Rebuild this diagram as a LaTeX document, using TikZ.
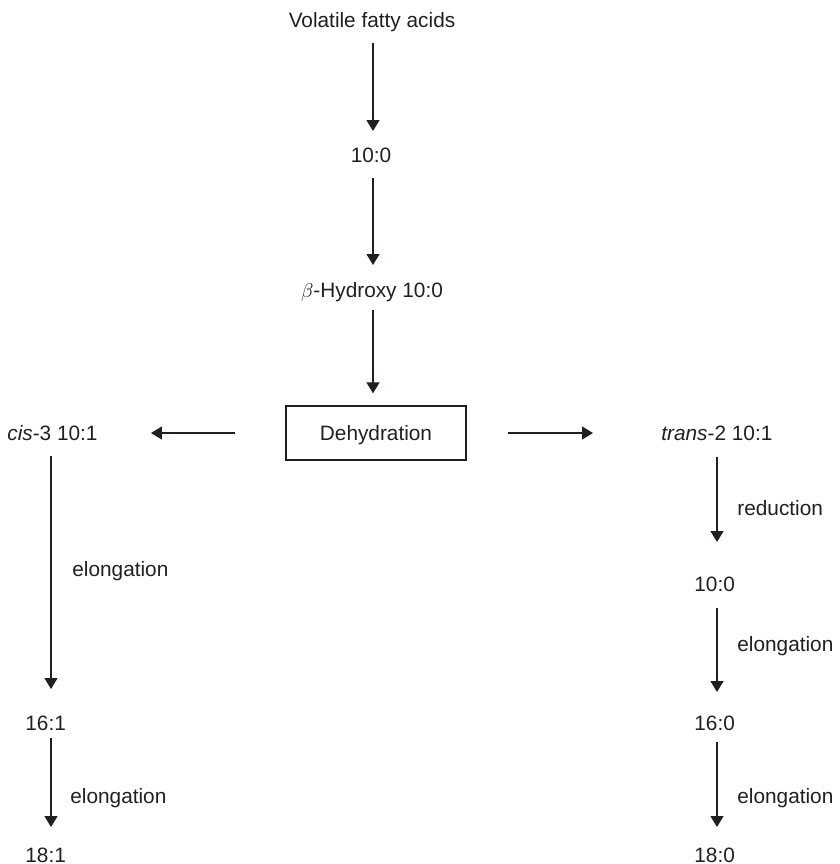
\documentclass[tikz,border=0pt]{standalone}
\usepackage{fontspec}
\setmainfont{Liberation Sans}
\usepackage{tikz}
\usetikzlibrary{arrows.meta}
\definecolor{ink}{RGB}{35,31,32}

\begin{document}
\begin{tikzpicture}[x=0.5pt,y=-0.5pt,
    lbl/.style={inner sep=0pt,text height=7.45pt,text depth=0pt,text=ink,font=\fontsize{10.4}{12}\selectfont},
    flow/.style={draw=ink,line width=0.65pt,-{Triangle[width=6.5pt,length=5.5pt]}}]
  \useasboundingbox (0,0) rectangle (840,864);
  \coordinate (tcol) at (373,0);
  \coordinate (lcol) at (51,0);
  \coordinate (rcol) at (717,0);
  % main line
  \node[lbl](vfa) at (372,20){Volatile fatty acids};
  \node[lbl](top10) at (371,155){10:0};
  \node[lbl](hyd) at (372,290){$\beta$-Hydroxy 10:0};
  \node[lbl,draw=ink,line width=0.65pt,minimum width=90pt,minimum height=27pt](dehyd) at (376,433){Dehydration};
  % left branch
  \node[lbl,anchor=west](cis) at (7,433){\textit{cis}-3 10:1};
  \node[lbl,anchor=west](c16) at (25,723){16:1};
  \node[lbl,anchor=west](c18) at (25,855){18:1};
  \node[lbl,anchor=west](lel1) at (72,569){elongation};
  \node[lbl,anchor=west](lel2) at (70,796){elongation};
  % right branch
  \node[lbl,anchor=west](trans) at (661,433){\textit{trans}-2 10:1};
  \node[lbl,anchor=west](r10) at (694,584){10:0};
  \node[lbl,anchor=west](r16) at (694,723){16:0};
  \node[lbl,anchor=west](r18) at (694,855){18:0};
  \node[lbl,anchor=west](red) at (737,508){reduction};
  \node[lbl,anchor=west](rel1) at (737,644){elongation};
  \node[lbl,anchor=west](rel2) at (737,796){elongation};

  \draw[flow,shorten <=11.5pt,shorten >=12pt](vfa.center-|tcol)--(top10.center-|tcol);
  \draw[flow,shorten <=11.5pt,shorten >=12.5pt](top10.center-|tcol)--(hyd.center-|tcol);
  \draw[flow,shorten <=10pt,shorten >=6pt](hyd.center-|tcol)--(dehyd.north-|tcol);
  \draw[flow,shorten <=25pt,shorten >=26.5pt](dehyd.west)--(cis.east);
  \draw[flow,shorten <=20.5pt,shorten >=34pt](dehyd.east)--(trans.west);
  \draw[flow,shorten <=11.5pt,shorten >=17pt](cis.center-|lcol)--(c16.center-|lcol);
  \draw[flow,shorten <=7.5pt,shorten >=14pt](c16.center-|lcol)--(c18.center-|lcol);
  \draw[flow,shorten <=12pt,shorten >=21pt](trans.center-|rcol)--(r10.center-|rcol);
  \draw[flow,shorten <=12pt,shorten >=15.5pt](r10.center-|rcol)--(r16.center-|rcol);
  \draw[flow,shorten <=9.5pt,shorten >=14pt](r16.center-|rcol)--(r18.center-|rcol);
\end{tikzpicture}
\end{document}
